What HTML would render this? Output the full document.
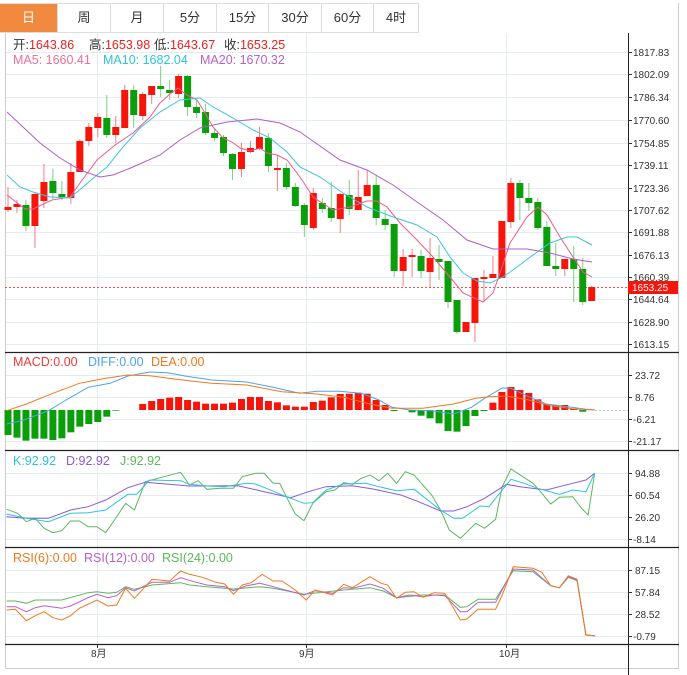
<!DOCTYPE html>
<html><head><meta charset="utf-8"><style>
body{margin:0;background:#fff;width:687px;height:675px;overflow:hidden;font-family:"Liberation Sans","Noto Sans CJK SC",sans-serif;}
.tabs{position:absolute;left:0;top:3px;height:28px;width:418px;border:1px solid #ddd;border-left:none;display:flex;}
.tab{height:28px;line-height:28px;text-align:center;font-size:13px;color:#333;border-left:1px solid #ddd;box-sizing:border-box;}
.tab.on{background:#f18a3e;color:#fff;border-left:none}
svg{position:absolute;left:0;top:0}
</style></head><body>
<div class="tabs">
<div class="tab on" style="width:57px">日</div><div class="tab" style="width:53px">周</div><div class="tab" style="width:53px">月</div><div class="tab" style="width:53px">5分</div><div class="tab" style="width:52px">15分</div><div class="tab" style="width:53px">30分</div><div class="tab" style="width:52px">60分</div><div class="tab" style="width:45px">4时</div>
</div>
<svg id="s" width="687" height="675" xmlns="http://www.w3.org/2000/svg" font-family="Liberation Sans, Noto Sans CJK SC, sans-serif">
<g id="grid"></g>
<g id="plot"></g>
<g font-size="10" fill="#333">
<text x="633" y="56">1817.83</text><text x="633" y="78">1802.09</text><text x="633" y="101">1786.34</text><text x="633" y="124">1770.60</text><text x="633" y="147">1754.85</text><text x="633" y="169">1739.11</text><text x="633" y="192">1723.36</text><text x="633" y="214">1707.62</text><text x="633" y="236">1691.88</text><text x="633" y="259">1676.13</text><text x="633" y="281">1660.39</text><text x="633" y="303">1644.64</text><text x="633" y="326">1628.90</text><text x="633" y="348">1613.15</text>
<text x="635" y="379">23.72</text><text x="635" y="401">8.76</text><text x="633" y="423">-6.21</text><text x="633" y="445">-21.17</text>
<text x="635" y="477">94.88</text><text x="635" y="499">60.54</text><text x="635" y="521">26.20</text><text x="633" y="543">-8.14</text>
<text x="635" y="574">87.15</text><text x="635" y="596">57.84</text><text x="635" y="618">28.52</text><text x="633" y="640">-0.79</text>
<text x="91" y="657">8月</text><text x="299" y="657">9月</text><text x="499" y="657">10月</text>
</g>
<rect x="628" y="281" width="50" height="13" fill="#f5150a"/>
<text x="632" y="291" font-size="10" fill="#fff">1653.25</text>
<g font-size="12.5">
<text x="13" y="49"><tspan fill="#333">开:</tspan><tspan fill="#f01e1e">1643.86</tspan></text>
<text x="89" y="49"><tspan fill="#333">高:</tspan><tspan fill="#f01e1e">1653.98</tspan></text>
<text x="154" y="49"><tspan fill="#333">低:</tspan><tspan fill="#f01e1e">1643.67</tspan></text>
<text x="224" y="49"><tspan fill="#333">收:</tspan><tspan fill="#f01e1e">1653.25</tspan></text>
<text x="13" y="64" fill="#ef6f96">MA5: 1660.41</text>
<text x="103" y="64" fill="#2ec4db">MA10: 1682.04</text>
<text x="200" y="64" fill="#b660c8">MA20: 1670.32</text>
<text x="13" y="366" fill="#f03a3a">MACD:0.00</text>
<text x="88" y="366" fill="#4aa3f0">DIFF:0.00</text>
<text x="151" y="366" fill="#f07a1e">DEA:0.00</text>
<text x="13" y="465" fill="#2ec4db">K:92.92</text>
<text x="66" y="465" fill="#8a5ad8">D:92.92</text>
<text x="120" y="465" fill="#5cb85c">J:92.92</text>
<text x="13" y="562" fill="#f07a1e">RSI(6):0.00</text>
<text x="84" y="562" fill="#b660c8">RSI(12):0.00</text>
<text x="162" y="562" fill="#5cb85c">RSI(24):0.00</text>
</g>
</svg>
<script>
var NS="http://www.w3.org/2000/svg",G=document.getElementById('grid'),P=document.getElementById('plot');
function el(p,t,a){var e=document.createElementNS(NS,t);for(var k in a)e.setAttribute(k,a[k]);p.appendChild(e);return e;}
function ln(p,x1,y1,x2,y2,c,w,d){var a={x1:x1,y1:y1,x2:x2,y2:y2,stroke:c,'stroke-width':w||1};if(d)a['stroke-dasharray']=d;el(p,'line',a);}
[52,74,97,120,143,165,188,210,232,255,277,299,322,344,375,397,419,441,473,495,517,539,570,592,614,636].forEach(function(y){ln(G,5,y+.5,628,y+.5,'#e6edf2',1);ln(G,628,y+.5,632,y+.5,'#333',1);});
[97,306,506].forEach(function(x){ln(G,x+.5,33,x+.5,644,'#e6edf2',1);ln(G,x+.5,644,x+.5,648,'#333',1);});
ln(G,5.5,33,5.5,668,'#ccc',1);ln(G,678.5,3,678.5,668,'#ccc',1);ln(G,5,668.5,679,668.5,'#ccc',1);
ln(G,628.5,33,628.5,675,'#222',1);
[352,450,547,644].forEach(function(y){ln(G,5,y+.5,679,y+.5,'#222',1.3);});
ln(G,5,287.5,628,287.5,'#f05050',1,'2,2');
var C=[['r',207,210,187,212],['r',204,207,200,213],['g',205,226,200,231],['r',194,226,192,248],['r',182,201,164,208],['g',181,193,169,199],['g',194,197,181,200],['r',172,198,163,204],['r',141,172,139,172],['r',127,141,123,146],['r',117,128,113,137],['g',118,135,95,138],['r',127,135,116,143],['r',90,128,85,128],['g',90,115,85,128],['r',94,116,92,120],['r',86,95,86,104],['g',86,89,66,97],['g',90,93,80,100],['r',76,94,74,98],['g',76,107,75,116],['g',107,113,100,118],['g',112,133,104,135],['g',133,138,128,141],['g',137,153,135,156],['g',154,169,153,180],['r',152,169,143,177],['r',148,152,141,153],['r',137,149,127,150],['g',138,166,133,172],['r',168,170,155,191],['g',168,187,163,190],['g',187,206,183,207],['g',205,225,203,237],
['r',193,228,188,230],['g',203,209,198,213],['g',208,218,182,222],['r',194,219,193,233],['g',195,209,180,215],['r',197,210,170,210],['r',185,196,170,196],['g',185,218,175,225],['g',219,225,210,230],['g',224,271,224,277],['r',257,271,249,286],['r',255,257,249,277],['g',256,271,250,278],['r',258,272,238,287],['g',259,262,245,280],['g',261,302,261,308],['g',300,332,300,334],['r',322,332,322,332],['r',278,323,278,342],['r',277,279,270,302],['r',274,278,256,278],['r',221,278,221,278],['r',183,222,178,228],['g',183,198,180,220],['g',198,203,183,211],['g',202,228,198,230],['g',227,266,221,266],['g',266,269,243,276],['r',259,269,259,276],['g',259,269,246,302],['g',269,302,258,305],['r',287,301,286,301]];
C.forEach(function(c,i){var x=8+i*8.98,col=c[0]=='r'?'#f5150a':'#0b9e0b',wc=c[0]=='r'?'#f28080':'#7ccf7c';
ln(P,x,c[3],x,c[4],wc,1);el(P,'rect',{x:x-3.5,y:c[1],width:7,height:Math.max(2,c[2]-c[1]),fill:col});});
function pl(pts,c,sx,sy,ox,oy){var s=pts.map(function(p){return (p[0]*sx+ox).toFixed(1)+','+(p[1]*sy+oy).toFixed(1)}).join(' ');el(P,'polyline',{points:s,fill:'none',stroke:c,'stroke-width':1});}
pl([[7,195],[25,209],[33,209],[52,200],[70,197],[80,183],[97,160],[115,145],[133,133],[150,117],[160,103],[170,94],[178,88],[187,95],[197,100],[205,113],[213,127],[223,138],[232,142],[240,148],[250,151],[260,148],[267,153],[277,155],[287,160],[297,173],[304,183],[313,197],[333,210],[350,207],[367,201],[377,201],[387,207],[400,223],[417,240],[433,257],[450,277],[463,293],[483,302],[493,293],[500,273],[510,243],[527,217],[538,207],[547,215],[560,237],[573,257],[583,272],[592,277]],'#ef5c8a',1,1,0,0);
pl([[7,175],[20,187],[33,192],[50,197],[70,198],[83,187],[97,175],[107,167],[123,147],[140,128],[160,112],[180,100],[200,98],[213,107],[233,118],[253,130],[270,138],[287,152],[300,167],[320,177],[343,193],[367,207],[393,217],[417,225],[437,237],[450,257],[463,273],[477,281],[490,283],[503,277],[517,267],[533,255],[550,243],[567,237],[577,237],[592,245]],'#3cc4dc',1,1,0,0);
pl([[7,112],[23,127],[40,143],[60,158],[80,170],[100,177],[113,175],[133,167],[160,155],[180,140],[200,128],[227,122],[257,119],[280,123],[300,132],[310,139],[340,160],[367,170],[393,185],[417,202],[443,220],[467,240],[493,249],[527,249],[550,253],[573,259],[592,262]],'#b25cc8',1,1,0,0);
var H=[255,263,272,266,266,270,265,247,230,222,216,200,182,181,180,162,153,147,143,141,150,155,161,161,161,158,147,141,141,153,157,166,170,170,156,152,142,132,131,128,131,150,165,183,181,187,197,205,220,243,245,228,198,183,158,126,111,120,129,148,162,165,165,176,185,181];
H.forEach(function(v,i){var x=8+i*8.98,y0=410,y=v/3+350;if(Math.abs(y-y0)<0.5)return;el(P,'rect',{x:x-3.5,y:Math.min(y,y0),width:7,height:Math.abs(y-y0),fill:y<y0?'#f5150a':'#0b9e0b'});});
ln(P,595,410.5,628,410.5,'#bcd',1,'2,2');
var s1=1/2.27;
pl([[15,222],[50,212],[110,182],[150,150],[200,112],[250,100],[290,78],[340,66],[380,68],[420,78],[480,90],[560,96],[620,112],[680,130],[720,124],[770,124],[820,130],[860,150],[890,172],[930,180],[980,182],[1030,192],[1070,172],[1100,145],[1140,114],[1160,115],[1200,140],[1240,162],[1290,170],[1330,178],[1350,179]],'#4aa3f0',s1,1/3,0,350);
pl([[15,182],[60,162],[120,130],[180,100],[240,85],[290,75],[340,77],[400,88],[480,100],[560,105],[640,125],[720,132],[780,142],[840,162],[890,175],[960,175],[1030,162],[1080,145],[1110,140],[1150,138],[1200,150],[1250,167],[1300,176],[1350,180]],'#f07a1e',s1,1/3,0,350);
pl([[15,178],[40,190],[60,215],[80,205],[100,235],[120,248],[140,242],[160,213],[180,213],[200,230],[220,230],[240,248],[260,210],[285,160],[305,180],[330,95],[350,88],[410,67],[430,105],[450,92],[470,118],[500,115],[530,115],[550,80],[580,70],[600,70],[620,100],[635,100],[650,140],[670,192],[690,212],[710,160],[740,125],[760,120],[780,98],[800,103],[820,85],[840,75],[860,92],[880,70],[900,100],[920,65],[940,75],[980,135],[1000,180],[1020,240],[1045,265],[1080,220],[1100,235],[1125,208],[1140,110],[1160,57],[1210,100],[1230,130],[1250,162],[1270,142],[1300,140],[1320,175],[1335,195],[1350,70]],'#5cb85c',s1,1/3,0,450);
pl([[15,200],[60,205],[110,205],[160,180],[200,170],[240,150],[290,113],[330,97],[430,108],[540,107],[600,125],[660,143],[700,125],[740,110],[800,107],[850,118],[910,135],[950,155],[1000,183],[1030,183],[1060,170],[1100,145],[1150,103],[1180,110],[1240,120],[1300,100],[1330,90],[1350,70]],'#8a5ad8',s1,1/3,0,450);
pl([[15,192],[60,205],[110,215],[160,190],[200,188],[240,180],[290,133],[310,133],[340,90],[410,92],[430,103],[470,108],[510,110],[560,100],[580,102],[610,118],[650,140],[690,160],[710,158],[740,120],[780,102],[830,100],[860,110],[900,122],[940,118],[1000,180],[1030,205],[1050,205],[1090,168],[1110,170],[1140,120],[1160,88],[1190,100],[1220,115],[1270,133],[1300,120],[1330,125],[1350,70]],'#2ec4db',s1,1/3,0,450);
pl([[15,168],[35,168],[60,175],[80,165],[140,165],[200,143],[220,140],[245,145],[265,142],[285,125],[305,133],[345,120],[410,113],[430,120],[470,125],[530,132],[590,125],[620,130],[690,148],[780,135],[840,128],[870,138],[900,158],[960,150],[1010,150],[1045,187],[1060,185],[1085,163],[1125,163],[1165,77],[1210,80],[1250,122],[1270,128],[1290,97],[1310,107],[1330,270],[1350,272]],'#5cb85c',s1,1/3,0,545);
pl([[15,185],[35,185],[60,200],[80,188],[100,182],[140,190],[160,183],[200,158],[220,148],[245,158],[265,152],[285,128],[305,138],[345,112],[385,112],[410,98],[440,110],[470,120],[510,125],[530,137],[560,122],[590,115],[620,125],[690,150],[715,137],[755,145],[780,128],[800,130],[840,117],[870,130],[900,158],[930,150],[960,155],[985,150],[1010,152],[1045,200],[1060,200],[1085,172],[1125,172],[1165,72],[1210,75],[1250,122],[1270,128],[1290,95],[1310,105],[1330,270],[1350,272]],'#b660c8',s1,1/3,0,545);
pl([[15,195],[35,193],[60,227],[80,212],[100,200],[120,218],[140,225],[160,212],[180,190],[220,165],[245,183],[265,180],[285,130],[305,160],[345,103],[385,108],[410,78],[430,88],[460,97],[490,112],[510,117],[530,148],[550,120],[570,113],[595,88],[620,108],[640,108],[670,135],[695,165],[715,135],[755,150],[780,118],[800,128],[840,95],[865,115],[880,120],[900,160],[920,142],[940,140],[960,157],[985,143],[1010,145],[1045,225],[1060,222],[1085,193],[1125,193],[1140,150],[1165,65],[1210,70],[1230,82],[1250,122],[1270,128],[1290,92],[1310,103],[1330,270],[1350,272]],'#f07a1e',s1,1/3,0,545);
</script>
</body></html>
